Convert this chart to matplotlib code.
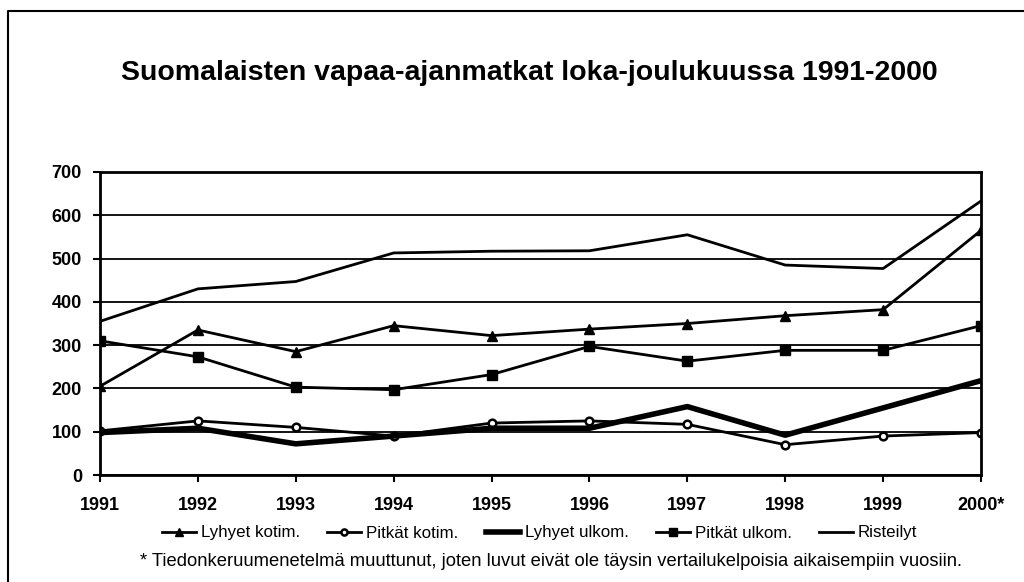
import matplotlib.pyplot as plt
from matplotlib.lines import Line2D

plt.rcParams['font.family'] = ['Liberation Sans', 'DejaVu Sans']

# data
years = ["1991", "1992", "1993", "1994", "1995", "1996", "1997", "1998", "1999", "2000*"]
lyhyet_kotim = [205, 335, 285, 345, 322, 337, 350, 368, 382, 565]
pitkat_kotim = [102, 125, 110, 90, 120, 125, 117, 70, 90, 98]
lyhyet_ulkom = [98, 108, 72, 90, 108, 108, 158, 92, 155, 218]
pitkat_ulkom = [310, 273, 203, 197, 232, 297, 263, 288, 288, 345]
risteilyt = [355, 430, 447, 513, 517, 518, 555, 485, 477, 633]

fig = plt.figure(figsize=(10.24, 5.82), dpi=100)
ax = fig.add_axes([100 / 1024, 1 - 475 / 582, 881 / 1024, 303 / 582])

x = range(len(years))
ax.plot(x, lyhyet_kotim, color="black", lw=2, marker="^", ms=6.5, label="Lyhyet kotim.")
ax.plot(x, pitkat_kotim, color="black", lw=2, marker="o", ms=5.5, mfc="white", mew=1.8,
        label="Pitkät kotim.")
ax.plot(x, lyhyet_ulkom, color="black", lw=4, label="Lyhyet ulkom.")
ax.plot(x, pitkat_ulkom, color="black", lw=2, marker="s", ms=6.5, label="Pitkät ulkom.")
ax.plot(x, risteilyt, color="black", lw=2, label="Risteilyt")

ax.set_xlim(0, 9)
ax.set_ylim(0, 700)
ax.set_yticks(range(0, 701, 100))
ax.set_xticks(list(x))
ax.set_xticklabels(years, fontsize=13, fontweight="bold")
ax.tick_params(axis="y", labelsize=13, length=5, width=1.5, pad=8)
ax.tick_params(axis="x", length=5, width=1.5, pad=11)
for lbl in ax.get_yticklabels():
    lbl.set_fontweight("bold")
ax.grid(axis="y", color="black", lw=1.3)
for sp in ax.spines.values():
    sp.set_linewidth(2)

fig.text(0.517, 1 - 73 / 582, "Suomalaisten vapaa-ajanmatkat loka-joulukuussa 1991-2000",
         ha="center", va="center", fontsize=20.5, fontweight="bold")

fig.legend(loc="center", bbox_to_anchor=(0.527, 1 - 533 / 582), ncol=5, frameon=False,
           fontsize=12.2, handlelength=2.0, columnspacing=1.6, handletextpad=0.3,
           markerscale=0.8)

fig.text(0.538, 1 - 562 / 582,
         "* Tiedonkeruumenetelmä muuttunut, joten luvut eivät ole täysin vertailukelpoisia aikaisempiin vuosiin.",
         ha="center", va="center", fontsize=13.2)

# outer frame (left and top)
fig.add_artist(Line2D([8 / 1024, 8 / 1024, 1], [0, 1 - 11 / 582, 1 - 11 / 582],
                      color="black", lw=1.5, transform=fig.transFigure))

fig.savefig("out.png", dpi=100)
